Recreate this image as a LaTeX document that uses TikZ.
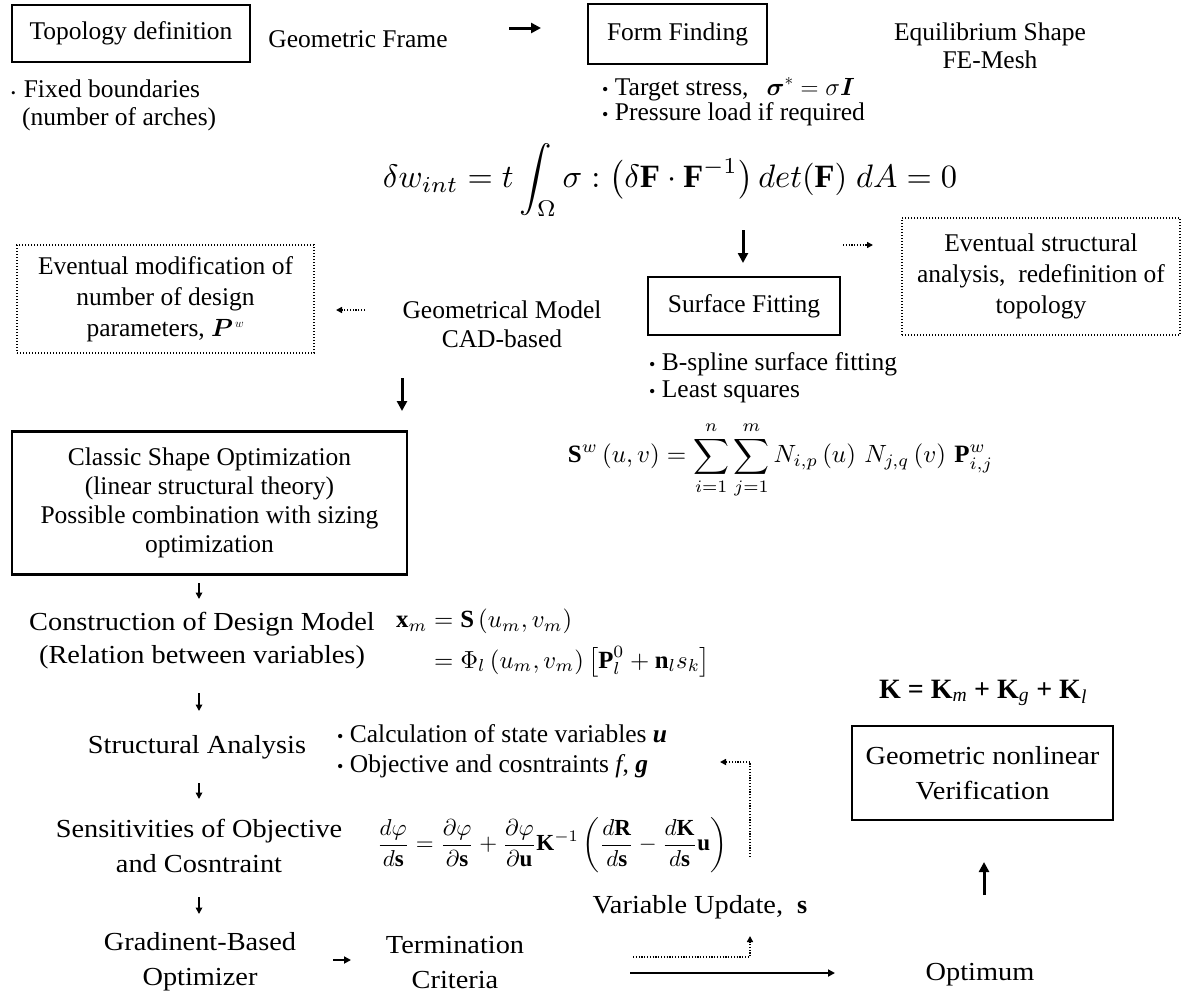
\documentclass[tikz,border=0pt]{standalone}
\usepackage{amsmath,amssymb}
\usepackage{bm}
\usepackage{graphicx}
\usepackage{fontspec}
\setmainfont{Liberation Serif}
\newfontfamily\pal{Liberation Serif}[FakeStretch=1.09]
\usetikzlibrary{arrows.meta}
\newcommand{\smallbul}{{\fontsize{13}{13}\selectfont\char"2022}}
\newcommand{\midbul}{{\fontsize{18}{18}\selectfont\char"2022}}
\begin{document}
\begin{tikzpicture}[x=1pt,y=-1pt,
  tm/.style={font=\rmfamily\fontsize{25.5}{30}\selectfont, inner sep=0pt},
  lm/.style={font=\pal\fontsize{26}{33}\selectfont, inner sep=0pt},
  solidbox/.style={draw, line width=2.4pt, inner sep=0pt},
  dotbox/.style={draw, line width=1.1pt, dash pattern=on 1pt off 2pt, inner sep=0pt},
  bigarrow/.style={line width=3pt, -{Triangle[length=10pt,width=10pt]}},
  smallarrow/.style={line width=1.6pt, -{Triangle[length=6.5pt,width=6.5pt]}},
  midarrow/.style={line width=2pt, -{Triangle[length=7pt,width=7pt]}},
  dotarrow/.style={line width=1.6pt, dash pattern=on 1.2pt off 1.6pt, -{Triangle[length=6pt,width=6pt]}},
]
\useasboundingbox (0,0) rectangle (1182,994);

% ---------- top row ----------
\node[solidbox, tm, minimum width=238pt, minimum height=57pt] (topo) at (131,33.5) {Topology definition};
\node[tm, anchor=base] (gframe) at (358,47) {Geometric Frame};
\coordinate (a1s) at (509,28);
\coordinate (a1e) at (541,28);
\draw[bigarrow] (a1s) -- (a1e);
\node[solidbox, tm, minimum width=179pt, minimum height=60pt] (ff) at (677.5,34) {Form Finding};
\node[tm, anchor=base] (eq1) at (990,40) {Equilibrium Shape};
\node[tm, anchor=base] (eq2) at (990,68) {FE-Mesh};

\node[tm, anchor=base west] (fb1) at (11,97) {\smallbul\hspace{8pt}Fixed boundaries};
\node[tm, anchor=base west] (fb2) at (22,125) {(number of arches)};

\node[tm, anchor=base west] (ts) at (602,95) {\midbul\ Target stress,\hspace{18pt}$\bm{\sigma}^{*}=\sigma\bm{I}$};
\node[tm, anchor=base west] (pl) at (602,120) {\midbul\ Pressure load if required};

\node[inner sep=0pt] (fw) at (670,180) {\resizebox{574pt}{!}{$\displaystyle \delta w_{int} = t\int_{\Omega}\sigma : \left(\delta\mathbf{F}\cdot\mathbf{F}^{-1}\right) det(\mathbf{F})\; dA = 0$}};

% ---------- second block ----------
\coordinate (d1s) at (743,230);
\coordinate (d1e) at (743,263);
\draw[bigarrow] (d1s) -- (d1e);
\coordinate (r1s) at (843,245);
\coordinate (r1e) at (873,245);
\draw[dotarrow] (r1s) -- (r1e);

\node[dotbox, tm, align=center, minimum width=278pt, minimum height=117pt,
      font=\rmfamily\fontsize{25.5}{31}\selectfont] (esa) at (1041,276.5)
      {Eventual structural\\analysis,\ \ redefinition of\\topology};

\node[dotbox, tm, align=center, minimum width=297pt, minimum height=108pt,
      font=\rmfamily\fontsize{25.5}{31}\selectfont] (emod) at (165.5,299)
      {Eventual modification of\\number of design\\parameters, $\bm{P}^{\scriptscriptstyle\,w}$};

\coordinate (l1s) at (365,310);
\coordinate (l1e) at (336,310);
\draw[dotarrow] (l1s) -- (l1e);

\node[tm, anchor=base] (gm1) at (502,318) {Geometrical Model};
\node[tm, anchor=base] (gm2) at (502,347) {CAD-based};

\node[solidbox, tm, minimum width=192pt, minimum height=58pt] (sf) at (744,306) {Surface Fitting};

\node[tm, anchor=base west] (bs1) at (649,370) {\midbul\ B-spline surface fitting};
\node[tm, anchor=base west] (bs2) at (649,397) {\midbul\ Least squares};

\node[inner sep=0pt] (sw) at (780.5,460) {\resizebox{425pt}{!}{$\displaystyle \mathbf{S}^{w}\left(u,v\right) = \sum_{i=1}^{n}\sum_{j=1}^{m} N_{i,p}\left(u\right)\,N_{j,q}\left(v\right)\,\mathbf{P}^{w}_{i,j}$}};

\coordinate (d2s) at (402,378);
\coordinate (d2e) at (402,411);
\draw[bigarrow] (d2s) -- (d2e);

% ---------- classic ----------
\node[solidbox, tm, align=center, minimum width=395pt, minimum height=143pt,
      font=\rmfamily\fontsize{25.5}{29}\selectfont] (cso) at (209.5,503)
      {Classic Shape Optimization\\(linear structural theory)\\Possible combination with sizing\\optimization};

\coordinate (s1s) at (199,583);
\coordinate (s1e) at (199,599);
\draw[smallarrow] (s1s) -- (s1e);

\node[lm, anchor=base] (cdm1) at (202,630) {Construction of Design Model};
\node[lm, anchor=base] (cdm2) at (202,663) {(Relation between variables)};

\node[inner sep=0pt, anchor=west] (xm) at (396,642) {\resizebox{314pt}{!}{$\begin{aligned} \mathbf{x}_m &= \mathbf{S}\left(u_m,v_m\right)\\ &= \Phi_l\left(u_m,v_m\right)\left[\mathbf{P}_l^0+\mathbf{n}_l s_k\right]\end{aligned}$}};

\coordinate (s2s) at (199,693);
\coordinate (s2e) at (199,711);
\draw[smallarrow] (s2s) -- (s2e);

\node[lm, anchor=base] (sa) at (197,753) {Structural Analysis};

\node[tm, anchor=base west] (cs1) at (337,742) {\midbul\ Calculation of state variables \textbf{\textit{u}}};
\node[tm, anchor=base west] (cs2) at (337,772) {\midbul\ Objective and cosntraints \textit{f}, \textbf{\textit{g}}};

\coordinate (s3s) at (199,783);
\coordinate (s3e) at (199,799);
\draw[smallarrow] (s3s) -- (s3e);

\node[lm, anchor=base] (sens1) at (199,837) {Sensitivities of Objective};
\node[lm, anchor=base] (sens2) at (199,872) {and Cosntraint};

\node[inner sep=0pt] (dphi) at (552,845) {\resizebox{350pt}{!}{$\displaystyle \frac{d\varphi}{d\mathbf{s}} = \frac{\partial\varphi}{\partial\mathbf{s}} + \frac{\partial\varphi}{\partial\mathbf{u}}\mathbf{K}^{-1}\left(\frac{d\mathbf{R}}{d\mathbf{s}}-\frac{d\mathbf{K}}{d\mathbf{s}}\mathbf{u}\right)$}};

\coordinate (s4s) at (199,897);
\coordinate (s4e) at (199,914);
\draw[smallarrow] (s4s) -- (s4e);

\node[lm, anchor=base] (gb1) at (200,950) {Gradinent-Based};
\node[lm, anchor=base] (gb2) at (200,985) {Optimizer};

\coordinate (s5s) at (333,960);
\coordinate (s5e) at (351,960);
\draw[midarrow] (s5s) -- (s5e);

\node[lm, anchor=base] (tc1) at (455,953) {Termination};
\node[lm, anchor=base] (tc2) at (455,988) {Criteria};

% ---------- feedback ----------
\coordinate (e1a) at (750,857);
\coordinate (e1b) at (750,762);
\coordinate (e1c) at (720,762);
\draw[dotarrow] (e1a) -- (e1b) -- (e1c);

\node[lm, anchor=base] (vu) at (700,913) {Variable Update,\ \ $\mathbf{s}$};

\coordinate (e2a) at (633,957);
\coordinate (e2b) at (750,957);
\coordinate (e2c) at (750,936);
\draw[dotarrow] (e2a) -- (e2b) -- (e2c);

\coordinate (o1s) at (630,973);
\coordinate (o1e) at (835,973);
\draw[midarrow] (o1s) -- (o1e);

\node[lm, anchor=base] (opt) at (980,980) {Optimum};

\coordinate (u1s) at (984,895);
\coordinate (u1e) at (984,862);
\draw[bigarrow] (u1s) -- (u1e);

\node[solidbox, lm, align=center, minimum width=261pt, minimum height=94pt,
      font=\pal\fontsize{26}{35}\selectfont] (gnv) at (982.5,773)
      {Geometric nonlinear\\Verification};

\node[inner sep=0pt, anchor=base] (kf) at (983,698) {\rmfamily\fontsize{28}{30}\selectfont\bfseries K = K\textsubscript{\mdseries\itshape m} + K\textsubscript{\mdseries\itshape g} + K\textsubscript{\mdseries\itshape l}};

\end{tikzpicture}
\end{document}
